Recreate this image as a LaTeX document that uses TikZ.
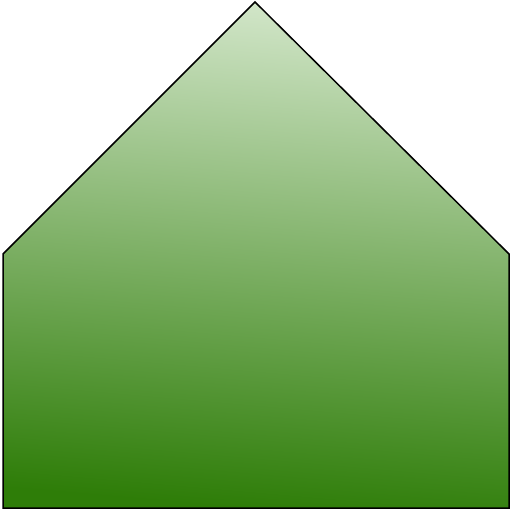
\documentclass[tikz,border=0pt]{standalone}
\definecolor{topg}{HTML}{D2E6C9}
\definecolor{botg}{HTML}{2E7D08}
\begin{document}
\begin{tikzpicture}[x=0.5pt,y=-0.5pt]
\useasboundingbox (0,0) rectangle (512,512);
\coordinate (a) at (3,254);
\coordinate (b) at (255,2);
\coordinate (c) at (509,254);
\coordinate (d) at (509,508);
\coordinate (e) at (3,508);
\shade[top color=topg,bottom color=botg,shading angle=-5] (a) -- (b) -- (c) -- (d) -- (e) -- cycle;
\draw[line width=0.75pt,line join=miter] (a) -- (b) -- (c) -- (d) -- (e) -- cycle;
\end{tikzpicture}
\end{document}
